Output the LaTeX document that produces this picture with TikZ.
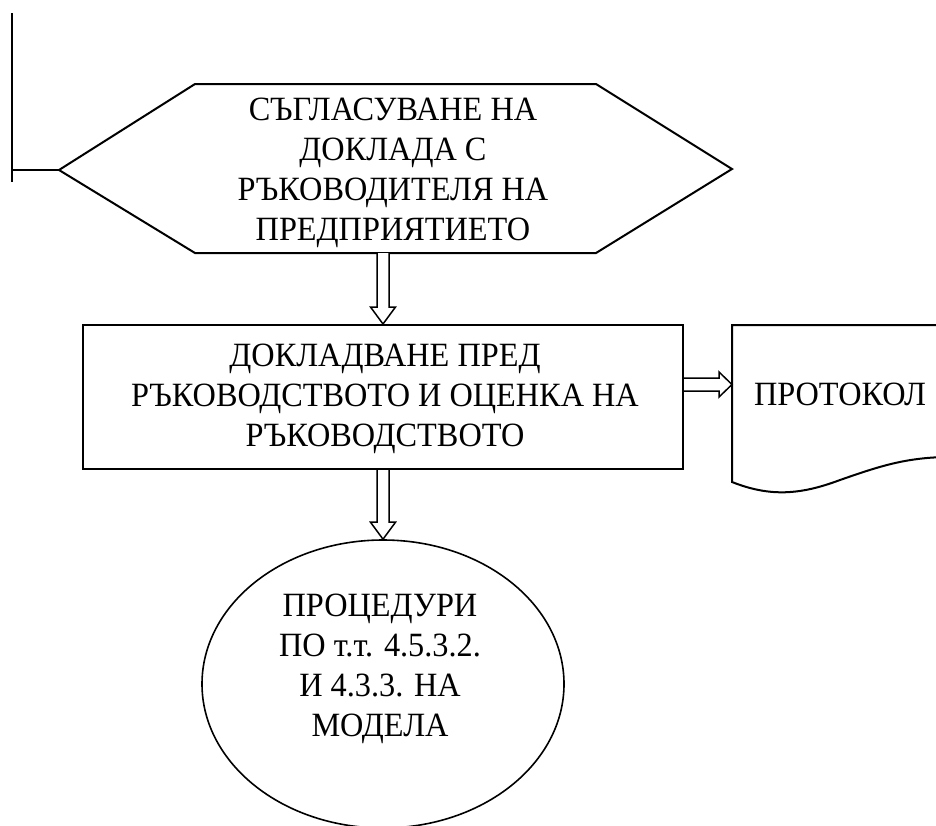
\documentclass[tikz,border=0pt]{standalone}
\usepackage{fontspec}
\setmainfont{Liberation Serif}[FakeStretch=0.95]
\usetikzlibrary{shapes.geometric,calc}
\tikzset{
  shp/.style={draw=black, line width=2pt},
  blk/.style={draw=black, line width=1.5pt, fill=white, line join=miter},
  txt/.style={align=center, inner sep=0pt, font=\fontsize{34}{40}\selectfont},
}
\newcommand\blkdn[2]{%
  \draw[blk] let \p1=(#1), \p2=(#2) in
    (\x2-6pt,\y1) -- (\x2-6pt,\y2+17pt) -- (\x2-12.5pt,\y2+17pt) -- (\x2,\y2)
    -- (\x2+12.5pt,\y2+17pt) -- (\x2+6pt,\y2+17pt) -- (\x2+6pt,\y1);}
\begin{document}
\begin{tikzpicture}[x=1pt,y=-1pt]
\useasboundingbox (0,0) rectangle (936,825);
% left bracket line
\coordinate (vtop) at (12,13);
\coordinate (vbot) at (12,182);
\coordinate (vjoin) at (12,170);
\draw[shp] (vtop) -- (vbot);
% hexagon
\coordinate (hw) at (59,170);
\coordinate (htl) at (195,84);
\coordinate (htr) at (596,84);
\coordinate (he) at (732,169);
\coordinate (hbr) at (596,253);
\coordinate (hbl) at (195,253);
\coordinate (hs) at (384,253);
\draw[shp, line join=miter] (hw) -- (htl) -- (htr) -- (he) -- (hbr) -- (hbl) -- cycle;
\draw[shp] (vjoin) -- (hw);
\node[txt] (hex) at (393,173) {СЪГЛАСУВАНЕ НА\\ДОКЛАДА С\\РЪКОВОДИТЕЛЯ НА\\ПРЕДПРИЯТИЕТО};
% rectangle
\node[shp, rectangle, minimum width=600pt, minimum height=144pt, inner sep=0pt] (rect) at (383,397) {};
\node[txt] (recttext) at (385,399) {ДОКЛАДВАНЕ ПРЕД\\РЪКОВОДСТВОТО И ОЦЕНКА НА\\РЪКОВОДСТВОТО};
% document
\coordinate (docw) at (732,384.5);
\draw[shp] (945,325) -- (732,325) -- (732,482)
  .. controls (770,497) and (800,495) .. (840,480)
  .. controls (880,466) and (905,458) .. (945,457);
\node[txt] (doc) at (840,394) {ПРОТОКОЛ};
% ellipse
\node[draw=black, line width=1.6pt, ellipse, minimum width=362pt, minimum height=288pt, inner sep=0pt] (ell) at (383,684) {};
\node[txt] (elltext) at (380,669) {ПРОЦЕДУРИ\\ПО т.т. 4.5.3.2.\\И 4.3.3. НА\\МОДЕЛА};
% block arrows
\blkdn{hs}{rect.north}
\blkdn{rect.south}{ell.north}
\draw[blk] let \p1=(rect.east), \p2=(docw) in
  (\x1,\y2+6.5pt) -- (\x2-13pt,\y2+6.5pt) -- (\x2-13pt,\y2+12.5pt) -- (\x2,\y2)
  -- (\x2-13pt,\y2-12.5pt) -- (\x2-13pt,\y2-6.5pt) -- (\x1,\y2-6.5pt);
\end{tikzpicture}
\end{document}
